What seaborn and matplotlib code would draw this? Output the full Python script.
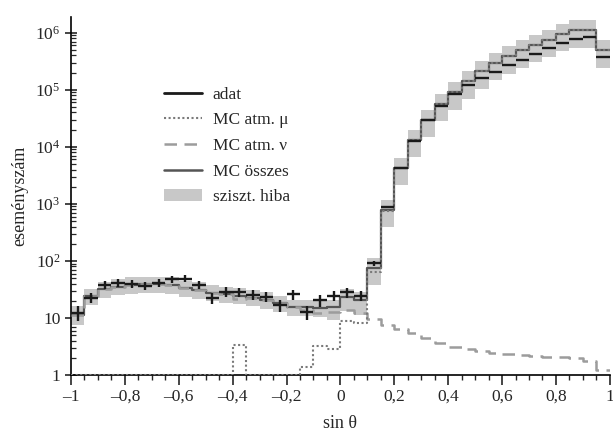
import numpy as np
import matplotlib
matplotlib.use("Agg")
import matplotlib.pyplot as plt
import seaborn as sns
from matplotlib.lines import Line2D
from matplotlib.patches import Patch
from matplotlib.ticker import FixedLocator, FixedFormatter, LogLocator, NullFormatter

# ---- data (40 bins of width 0.05 in sin theta) ----
bin_edges = np.linspace(-1.0, 1.0, 41)

data_counts = [12.4, 22.7, 37.9, 41.6, 40, 36.4, 41.1, 47.8, 48.9, 38.4,
               22.2, 28.9, 28.2, 25.3, 23.6, 16.9, 26, 12.9, 20.3, 24.6,
               28, 24.6, 91, 875, 4330, 12900, 29800, 53000, 84000, 119000,
               160000, 207000, 267000, 336000, 428000, 530000, 659000, 785000, 827000, 369000]

mc_total = [11.1, 24, 31.9, 35.4, 37.9, 39, 39, 37.9, 33.2, 31,
            27.8, 26, 24.6, 22.7, 20.7, 18.1, 15.4, 15.4, 14.8, 15.4,
            23.6, 20.7, 75, 785, 4230, 13300, 29800, 56100, 89700, 140000,
            210000, 294000, 384000, 489000, 615000, 753000, 960000, 1100000, 1100000, 489000]

mc_atm_mu = [1, 1, 1, 1, 1, 1, 1, 1, 1, 1,
             1, 1, 3.4, 1, 1, 1, 1, 1.4, 3.2, 2.8,
             8.9, 8.1, 65, 760, 4220, 13290, 29795, 56096, 89697, 139997,
             209997, 293997, 383997, 488997, 614997, 752997, 959998, 1099998, 1099998, 488998]

mc_atm_nu = [11.1, 24, 31.9, 35.4, 37.9, 39, 39, 37.9, 33.2, 31,
             27.8, 26, 21.2, 22.7, 20.7, 18.1, 15.4, 14, 12, 12.5,
             13.8, 12.1, 9.5, 7.5, 6.3, 5.4, 4.5, 3.7, 3.1, 2.8,
             2.6, 2.4, 2.3, 2.24, 2.15, 2.1, 2.04, 1.95, 1.76, 1.22]

# systematic error band (fractional, down / up)
sys_down = [0.33, 0.3, 0.3, 0.3, 0.3, 0.3, 0.3, 0.3, 0.3, 0.3,
            0.3, 0.3, 0.3, 0.3, 0.3, 0.3, 0.3, 0.3, 0.3, 0.4,
            0.45, 0.45, 0.5, 0.5, 0.5, 0.5, 0.5, 0.5, 0.5, 0.5,
            0.5, 0.5, 0.5, 0.5, 0.5, 0.5, 0.5, 0.5, 0.5, 0.5]
sys_up = [0.45, 0.35, 0.35, 0.35, 0.35, 0.35, 0.35, 0.35, 0.35, 0.35,
          0.35, 0.35, 0.35, 0.35, 0.35, 0.35, 0.35, 0.35, 0.35, 0.35,
          0.35, 0.4, 0.5, 0.5, 0.5, 0.5, 0.5, 0.5, 0.5, 0.5,
          0.5, 0.5, 0.5, 0.5, 0.5, 0.5, 0.5, 0.5, 0.5, 0.5]

xtick_values = [-1, -0.8, -0.6, -0.4, -0.2, 0, 0.2, 0.4, 0.6, 0.8, 1]
xtick_labels = ["–1", "–0,8", "–0,6", "–0,4", "–0,2", "0", "0,2", "0,4", "0,6", "0,8", "1"]
ytick_values = [1, 10, 1e2, 1e3, 1e4, 1e5, 1e6]
ytick_labels = ["1", "10", "$10^2$", "$10^3$", "$10^4$", "$10^5$", "$10^6$"]

legend_labels = ["adat", "MC atm. μ", "MC atm. ν", "MC összes", "sziszt. hiba"]

# ---- style ----
sns.set_style("ticks")
plt.rcParams["font.family"] = ["Liberation Serif", "DejaVu Serif"]
plt.rcParams["mathtext.fontset"] = "custom"
plt.rcParams["mathtext.rm"] = "Liberation Serif"
plt.rcParams["mathtext.it"] = "Liberation Serif:italic"
plt.rcParams["font.size"] = 12

fig = plt.figure(figsize=(6.13, 4.32), dpi=100)
ax = fig.add_axes([0.1158, 0.132, 0.879, 0.829])

edges = np.asarray(bin_edges)
centers = 0.5 * (edges[:-1] + edges[1:])
dat = np.asarray(data_counts, float)
tot = np.asarray(mc_total, float)

def ext(v):
    v = np.asarray(v, float)
    return np.r_[v, v[-1]]

band_lo = tot * (1 - np.asarray(sys_down))
band_hi = tot * (1 + np.asarray(sys_up))
ax.fill_between(edges, ext(band_lo), ext(band_hi), step="post",
                color="#c8c8c8", lw=0, zorder=1)

c_tot, c_mu, c_nu = "#555555", "#7a7a7a", "#9c9c9c"
sns.lineplot(x=edges, y=ext(tot), drawstyle="steps-post", estimator=None,
             color=c_tot, lw=1.6, ax=ax, zorder=2)
sns.lineplot(x=edges, y=ext(mc_atm_nu), drawstyle="steps-post", estimator=None,
             color=c_nu, lw=1.8, dashes=False, linestyle=(0, (5, 3)), ax=ax, zorder=3)
sns.lineplot(x=edges, y=ext(mc_atm_mu), drawstyle="steps-post", estimator=None,
             color=c_mu, lw=1.5, dashes=False, linestyle=(0, (1, 1.2)), ax=ax, zorder=4)

ax.errorbar(centers, dat, xerr=0.025, yerr=np.sqrt(dat), fmt="none",
            ecolor="#1a1a1a", elinewidth=1.7, capsize=0, zorder=5)

ax.set_yscale("log")
ax.set_xlim(-1, 1)
ax.set_ylim(1, 1.9e6)

ax.xaxis.set_major_locator(FixedLocator(xtick_values))
ax.xaxis.set_major_formatter(FixedFormatter(xtick_labels))
ax.xaxis.set_minor_locator(FixedLocator(centers - 0.025))
ax.yaxis.set_major_locator(FixedLocator(ytick_values))
ax.yaxis.set_major_formatter(FixedFormatter(ytick_labels))
ax.yaxis.set_minor_locator(LogLocator(base=10, subs=np.arange(2, 10)))
ax.yaxis.set_minor_formatter(NullFormatter())

ax.tick_params(axis="x", which="major", direction="out", length=7, width=1.2, labelsize=12.5, pad=3)
ax.tick_params(axis="x", which="minor", direction="out", length=3.5, width=1.0)
ax.tick_params(axis="y", which="major", direction="inout", length=9, width=1.2, labelsize=12.5, pad=3)
ax.tick_params(axis="y", which="minor", direction="in", length=3.5, width=0.9)

for s in ["top", "right"]:
    ax.spines[s].set_visible(False)
for s in ["left", "bottom"]:
    ax.spines[s].set_linewidth(1.2)
    ax.spines[s].set_color("black")

ax.set_xlabel("sin θ", fontsize=13, labelpad=7)
ax.set_ylabel("eseményszám", fontsize=13, labelpad=5)

handles = [Line2D([], [], color="#1a1a1a", lw=2.0),
           Line2D([], [], color=c_mu, lw=1.5, linestyle=(0, (1, 1.2))),
           Line2D([], [], color=c_nu, lw=1.8, linestyle=(0, (5, 3))),
           Line2D([], [], color=c_tot, lw=1.8),
           Patch(facecolor="#c8c8c8", edgecolor="none")]
ax.legend(handles, legend_labels, loc="upper left", bbox_to_anchor=(0.16, 0.825),
          frameon=False, fontsize=12.5, handlelength=2.2, handletextpad=0.6,
          labelspacing=0.55, borderaxespad=0)

fig.savefig("out.png", dpi=100)
